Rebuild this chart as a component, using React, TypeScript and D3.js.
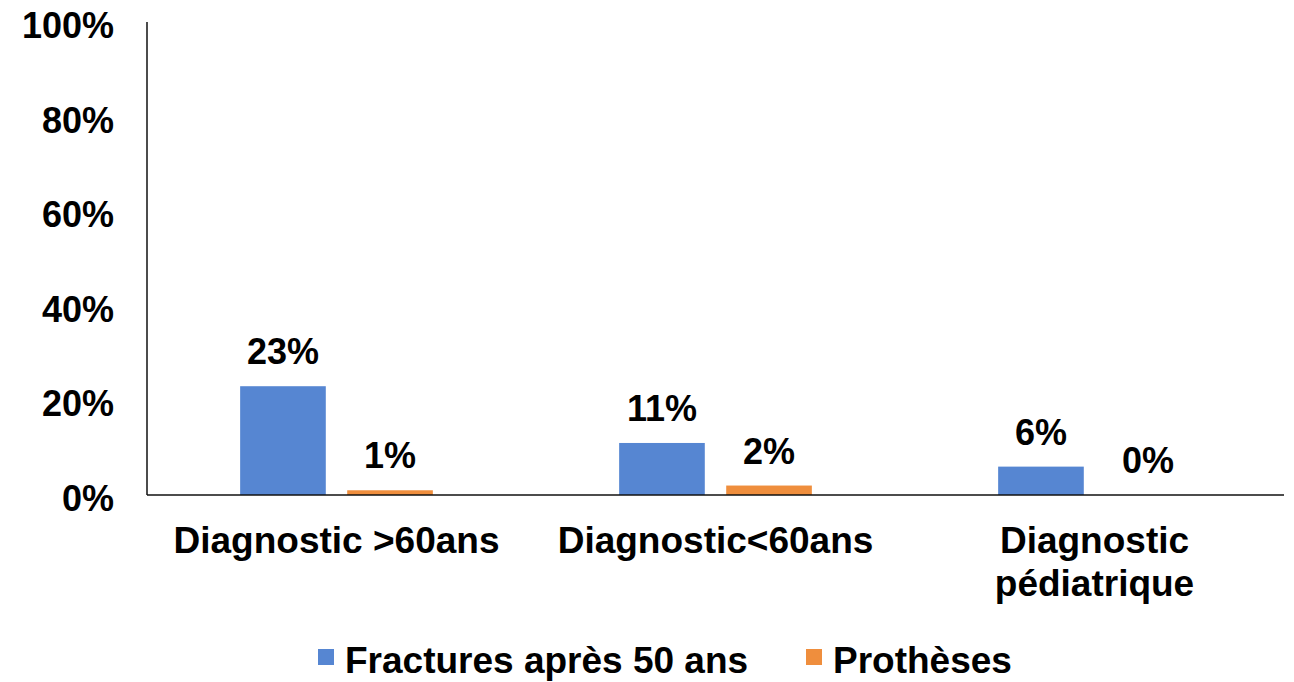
import React, { useEffect, useRef } from "react";
import * as d3 from "d3";

const categories: string[][] = [["Diagnostic >60ans"], ["Diagnostic<60ans"], ["Diagnostic", "pédiatrique"]];
const seriesNames = ["Fractures après 50 ans", "Prothèses"];
const fractures = [23, 11, 6];
const protheses = [1, 2, 0];
const yTicks = [0, 20, 40, 60, 80, 100];
const colors = ["#5686d2", "#ef8e3d"];

const W = 1294;
const H = 682;
const FONT = "'Liberation Sans', Arial, Helvetica, sans-serif";

export default function App() {
  const ref = useRef<SVGSVGElement>(null);
  useEffect(() => {
    const svg = d3.select(ref.current);
    svg.selectAll("*").remove();
    const left = 147, right = 1284, top = 22, bottom = 495;
    const keys = categories.map((c) => c.join(" "));
    const x0 = d3.scaleBand<string>().domain(keys).range([left, right]).padding(0);
    const x1 = d3.scaleBand<string>().domain(seriesNames).range([0, x0.bandwidth()]).paddingInner(0.2).paddingOuter(0.87);
    const y = d3.scaleLinear().domain([0, 100]).range([bottom, top]);
    const values = [fractures, protheses];

    // tick labels
    svg.append("g").selectAll("text").data(yTicks).join("text")
      .attr("x", 114).attr("y", (d) => y(d) + 16)
      .attr("text-anchor", "end")
      .attr("font-family", FONT).attr("font-weight", "bold").attr("font-size", 36)
      .attr("fill", "#000").text((d) => `${d}%`);

    // bars
    seriesNames.forEach((s, si) => {
      const g = svg.append("g");
      g.selectAll("rect").data(values[si]).join("rect")
        .attr("x", (d, i) => (x0(keys[i]) as number) + (x1(s) as number))
        .attr("width", x1.bandwidth())
        .attr("y", (d) => y(d))
        .attr("height", (d) => y(0) - y(d))
        .attr("fill", colors[si]);
      g.selectAll("text").data(values[si]).join("text")
        .attr("x", (d, i) => (x0(keys[i]) as number) + (x1(s) as number) + x1.bandwidth() / 2)
        .attr("y", (d) => y(d) - 22)
        .attr("text-anchor", "middle")
        .attr("font-family", FONT).attr("font-weight", "bold").attr("font-size", 36)
        .attr("fill", "#000").text((d) => `${d}%`);
    });

    // axes
    svg.append("line").attr("x1", left).attr("x2", left).attr("y1", top).attr("y2", bottom)
      .attr("stroke", "#111").attr("stroke-width", 1.5);
    svg.append("line").attr("x1", left).attr("x2", right).attr("y1", bottom).attr("y2", bottom)
      .attr("stroke", "#111").attr("stroke-width", 1.5);

    // category labels
    categories.forEach((lines, i) => {
      const cx = (x0(keys[i]) as number) + x0.bandwidth() / 2;
      const t = svg.append("text")
        .attr("text-anchor", "middle")
        .attr("font-family", FONT).attr("font-weight", "bold").attr("font-size", 37)
        .attr("fill", "#000");
      lines.forEach((l, li) => {
        t.append("tspan").attr("x", cx).attr("y", 553 + li * 43).text(l);
      });
    });

    // legend
    const legX = [318, 806];
    seriesNames.forEach((s, si) => {
      svg.append("rect").attr("x", legX[si]).attr("y", 649).attr("width", 16).attr("height", 16).attr("fill", colors[si]);
      svg.append("text").attr("x", legX[si] + 27).attr("y", 673)
        .attr("font-family", FONT).attr("font-weight", "bold").attr("font-size", 37)
        .attr("fill", "#000").text(s);
    });
  }, []);
  return (
    <svg ref={ref} width={W} height={H} style={{ position: "absolute", left: 0, top: 0, background: "#fff" }} />
  );
}
